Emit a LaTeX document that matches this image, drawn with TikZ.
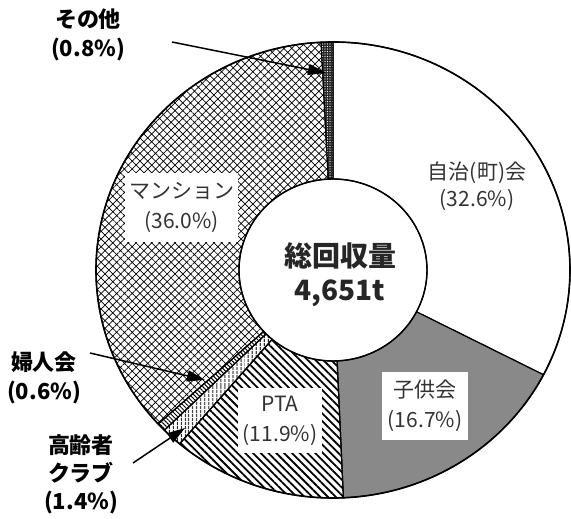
\documentclass[tikz,border=0pt]{standalone}
\usepackage{fontspec}
\setmainfont{Noto Sans CJK JP}
\usetikzlibrary{calc,patterns,patterns.meta,arrows.meta}

\tikzset{
  sep/.style={draw=black, line width=1.2pt, line join=round},
  boxlbl/.style={fill=white, inner sep=0pt, align=center, text=black!80, font=\fontsize{21}{30}\selectfont},
  inlbl/.style={align=center, text=black!80, font=\fontsize{21}{27}\selectfont},
  outlbl/.style={align=center, font=\bfseries\fontsize{22}{29}\selectfont},
  pointer/.style={-{Triangle[length=18pt,width=11pt]}, line width=1.5pt}
}

\begin{document}
\begin{tikzpicture}[x=1pt,y=1pt]
    \useasboundingbox (0,0) rectangle (571,519);
    \coordinate (c) at (333,249);

    \path[sep, fill=white] ($(c)+(90:94 and 91)$) -- ($(c)+(90:237 and 228)$) arc[start angle=90, end angle=-27.36, x radius=237, y radius=228] -- ($(c)+(-27.36:94 and 91)$) arc[start angle=-27.36, end angle=90, x radius=94, y radius=91] -- cycle;
    \path[sep, preaction={fill=black!60}, pattern={Dots[distance=2pt, radius=0.7pt]}, pattern color=white] ($(c)+(-27.36:94 and 91)$) -- ($(c)+(-27.36:237 and 228)$) arc[start angle=-27.36, end angle=-87.48, x radius=237, y radius=228] -- ($(c)+(-87.48:94 and 91)$) arc[start angle=-87.48, end angle=-27.36, x radius=94, y radius=91] -- cycle;
    \path[sep, pattern={Lines[angle=-45, distance=5.5pt, line width=1.8pt]}] ($(c)+(-87.48:94 and 91)$) -- ($(c)+(-87.48:237 and 228)$) arc[start angle=-87.48, end angle=-130.32, x radius=237, y radius=228] -- ($(c)+(-130.32:94 and 91)$) arc[start angle=-130.32, end angle=-87.48, x radius=94, y radius=91] -- cycle;
    \path[sep, pattern={Lines[angle=90, distance=4pt, line width=1.2pt]}] ($(c)+(-130.32:94 and 91)$) -- ($(c)+(-130.32:237 and 228)$) arc[start angle=-130.32, end angle=-135.36, x radius=237, y radius=228] -- ($(c)+(-135.36:94 and 91)$) arc[start angle=-135.36, end angle=-130.32, x radius=94, y radius=91] -- cycle;
    \path[sep, pattern={Lines[angle=-45, distance=3pt, line width=1pt]}] ($(c)+(-135.36:94 and 91)$) -- ($(c)+(-135.36:237 and 228)$) arc[start angle=-135.36, end angle=-137.52, x radius=237, y radius=228] -- ($(c)+(-137.52:94 and 91)$) arc[start angle=-137.52, end angle=-135.36, x radius=94, y radius=91] -- cycle;
    \path[sep, pattern={Hatch[angle=45, distance=5.5pt, line width=0.7pt]}] ($(c)+(-137.52:94 and 91)$) -- ($(c)+(-137.52:237 and 228)$) arc[start angle=-137.52, end angle=-267.12, x radius=237, y radius=228] -- ($(c)+(-267.12:94 and 91)$) arc[start angle=-267.12, end angle=-137.52, x radius=94, y radius=91] -- cycle;
    \path[sep, preaction={fill=black!85}, pattern={Dots[distance=2.5pt, radius=0.6pt]}, pattern color=white] ($(c)+(-267.12:94 and 91)$) -- ($(c)+(-267.12:237 and 228)$) arc[start angle=-267.12, end angle=-270, x radius=237, y radius=228] -- ($(c)+(-270:94 and 91)$) arc[start angle=-270, end angle=-267.12, x radius=94, y radius=91] -- cycle;

    \draw[line width=1.6pt] (c) ellipse[x radius=237, y radius=228];
    \draw[line width=1.4pt] (c) ellipse[x radius=94, y radius=91];

    \node[inlbl] (jichi) at (477,332.5) {自治(町)会\\(32.6\%)};
    \node[boxlbl, minimum width=86, minimum height=68] (kodomo) at (425,113) {子供会\\(16.7\%)};
    \node[boxlbl, minimum width=84, minimum height=65] (pta) at (280,98.5) {PTA\\(11.9\%)};
    \node[boxlbl, minimum width=113, minimum height=69] (mansion) at (181.5,311.5) {マンション\\(36.0\%)};
    \node[align=center, text=black!85, font=\bfseries\fontsize{28}{34}\selectfont] (total) at (340,244) {総回収量\\4,651t};

    \node[outlbl] (sonota) at (88,484.5) {その他\\(0.8\%)};
    \node[outlbl] (fujin) at (44,141) {婦人会\\(0.6\%)};
    \node[outlbl, font=\bfseries\fontsize{22}{28}\selectfont] (koreisha) at (81,45) {高齢者\\クラブ\\(1.4\%)};

    \coordinate (sonota-s) at (172,477);
    \coordinate (sonota-e) at (326,446);
    \coordinate (fujin-s) at (90,166);
    \coordinate (fujin-e) at (205,139);
    \coordinate (koreisha-s) at (133,56);
    \coordinate (koreisha-e) at (185,91);

    \draw[pointer] (sonota-s) -- (sonota-e);
    \draw[pointer] (fujin-s) -- (fujin-e);
    \draw[pointer] (koreisha-s) -- (koreisha-e);
\end{tikzpicture}
\end{document}
